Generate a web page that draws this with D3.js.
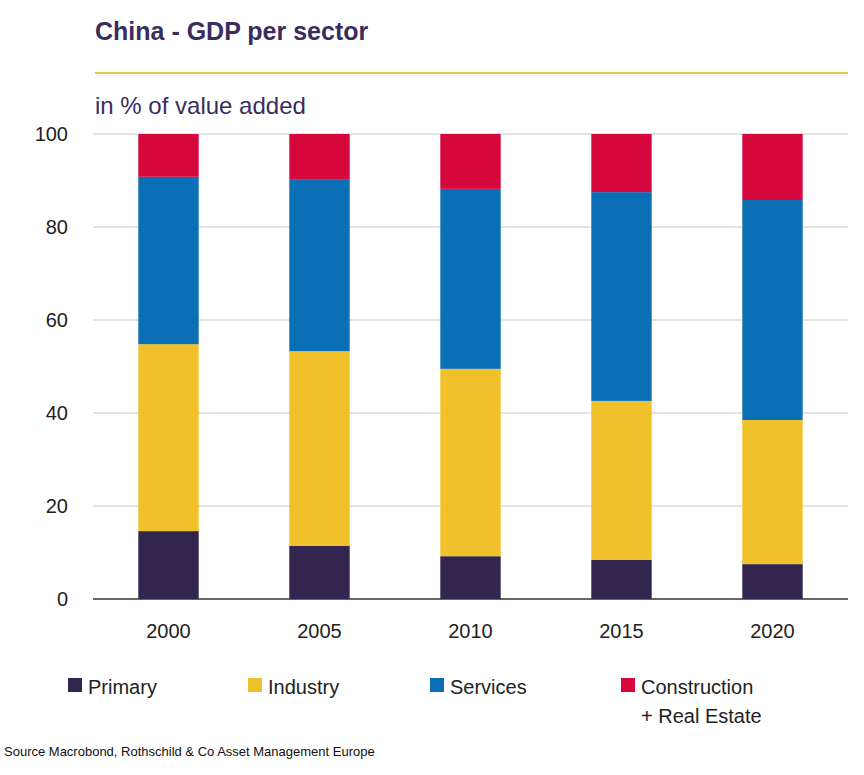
<!DOCTYPE html><html><head><meta charset="utf-8">
<script src="https://cdn.jsdelivr.net/npm/d3@7"></script>
<style>body{margin:0;background:#fff}text{font-family:Arial,"Liberation Sans",sans-serif}</style></head><body>
<svg id="c" width="864" height="775"></svg>
<script>
const years=["2000","2005","2010","2015","2020"];
const primary=[14.6,11.4,9.2,8.4,7.5];
const industry=[40.2,41.9,40.3,34.2,31.0];
const services=[36.0,37.0,38.7,44.9,47.3];
const construction=[9.2,9.7,11.8,12.5,14.2];
const yTicks=[0,20,40,60,80,100];
const seriesNames=["Primary","Industry","Services","Construction"];
const colors=["#32264f","#f0c12a","#0a6fb5","#d6073c"];
const svg=d3.select("#c");
const x=d3.scaleBand().domain(years).range([93,848]).paddingInner(0.6).paddingOuter(0.3);
const y=d3.scaleLinear().domain([0,100]).range([599,134]);
svg.append("text").attr("x",95).attr("y",40).attr("font-size",25).attr("font-weight","bold").attr("fill","#3a2d5e").text("China - GDP per sector");
svg.append("line").attr("x1",95).attr("x2",848).attr("y1",73).attr("y2",73).attr("stroke","#e8c547").attr("stroke-width",2);
svg.append("text").attr("x",95).attr("y",114).attr("font-size",24).attr("fill","#3a2d5e").text("in % of value added");
yTicks.forEach(t=>{
  svg.append("line").attr("x1",93).attr("x2",848).attr("y1",y(t)).attr("y2",y(t)).attr("stroke",t===0?"#333":"#c8c8c8").attr("stroke-width",t===0?1.5:1);
  svg.append("text").attr("x",68).attr("y",y(t)+7).attr("text-anchor","end").attr("font-size",20).attr("fill","#222").text(t);
});
const data=years.map((yr,i)=>({year:yr,Primary:primary[i],Industry:industry[i],Services:services[i],Construction:construction[i]}));
const stack=d3.stack().keys(seriesNames)(data);
stack.forEach((s,k)=>{
  svg.append("g").selectAll("rect").data(s).join("rect")
   .attr("x",d=>x(d.data.year)).attr("width",x.bandwidth())
   .attr("y",d=>y(d[1])).attr("height",d=>y(d[0])-y(d[1])).attr("fill",colors[k]);
});
years.forEach(yr=>svg.append("text").attr("x",x(yr)+x.bandwidth()/2).attr("y",638).attr("text-anchor","middle").attr("font-size",20).attr("fill","#222").text(yr));
const leg=[["Primary",68],["Industry",248],["Services",430],["Construction",621]];
leg.forEach(([n,lx],k)=>{
  svg.append("rect").attr("x",lx).attr("y",678).attr("width",14).attr("height",14).attr("fill",colors[k]);
  svg.append("text").attr("x",lx+20).attr("y",694).attr("font-size",20).attr("fill","#222").text(n);
});
svg.append("text").attr("x",641).attr("y",723).attr("font-size",20).attr("fill","#222").text("+ Real Estate");
svg.append("text").attr("x",4).attr("y",756).attr("font-size",13).attr("fill","#111").text("Source Macrobond, Rothschild & Co Asset Management Europe");
</script></body></html>
